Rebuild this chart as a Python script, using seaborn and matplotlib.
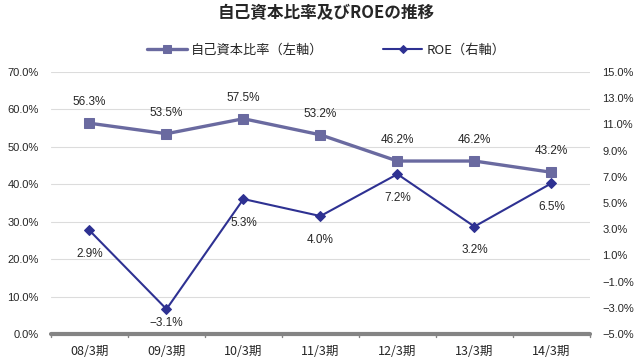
import numpy as np
import pandas as pd
import matplotlib
matplotlib.use("Agg")
import matplotlib.pyplot as plt
import seaborn as sns
from matplotlib.ticker import FuncFormatter

# datos
periodos = ["08/3期", "09/3期", "10/3期", "11/3期", "12/3期", "13/3期", "14/3期"]
ratio_capital = [56.3, 53.5, 57.5, 53.2, 46.2, 46.2, 43.2]
roe = [2.9, -3.1, 5.3, 4.0, 7.2, 3.2, 6.5]

sns.set_style("white")
plt.rcParams['font.family'] = ['Liberation Sans', 'Noto Sans CJK JP', 'DejaVu Sans']
plt.rcParams['axes.unicode_minus'] = True
cjk = ['Noto Sans CJK JP', 'DejaVu Sans']

col_ratio = "#6A6AA0"
col_roe = "#2E3192"
col_eje = "#848484"

df = pd.DataFrame({"periodo": periodos, "ratio": ratio_capital, "roe": roe})

fig = plt.figure(figsize=(6.4, 3.64), dpi=100)
ax = fig.add_axes([0.0797, 0.0824, 0.842, 0.72])
ax2 = ax.twinx()

sns.lineplot(data=df, x="periodo", y="ratio", ax=ax, color=col_ratio, marker="s",
             markersize=7.5, markeredgecolor=col_ratio, linewidth=2.4, sort=False,
             label="自己資本比率（左軸）", legend=False)
sns.lineplot(data=df, x="periodo", y="roe", ax=ax2, color=col_roe, marker="D",
             markersize=5, markeredgecolor=col_roe, linewidth=1.5, sort=False,
             label="ROE（右軸）", legend=False)

ax.set_ylim(0, 70)
ax.set_yticks(np.arange(0, 71, 10))
ax2.set_ylim(-5, 15)
ax2.set_yticks(np.arange(-5, 15.1, 2))
ax.set_xlim(-0.5, len(periodos) - 0.5)

fmt = FuncFormatter(lambda v, p: f"{v:.1f}%".replace("-", "\u2212"))
ax.yaxis.set_major_formatter(fmt)
ax2.yaxis.set_major_formatter(fmt)

ax.grid(axis="y", color="#DCDCDC", linewidth=0.8)
ax.set_axisbelow(True)
for a in (ax, ax2):
    for s in ["top", "right", "left", "bottom"]:
        a.spines[s].set_visible(False)
ax.axhline(0, color=col_eje, linewidth=3, zorder=1, clip_on=False)

ax.set_xticks(range(len(periodos)))
ax.set_xticklabels(periodos, family=cjk)
ax.tick_params(axis="x", length=0, labelsize=9, pad=8)
for b in np.arange(-0.5, len(periodos), 1.0):
    ax.plot([b, b], [0, -0.9], color=col_eje, linewidth=1, clip_on=False)
ax.tick_params(axis="y", length=0, labelsize=8, pad=9)
ax2.tick_params(axis="y", length=0, labelsize=8, pad=9)
ax.set_xlabel("")
ax.set_ylabel("")
ax2.set_ylabel("")

for i, v in enumerate(ratio_capital):
    ax.annotate(f"{v:.1f}%", (i, v), xytext=(0, 15), textcoords="offset points",
                ha="center", va="center", fontsize=8.5)

# etiquetas ROE debajo; si no caben sobre el eje, se acercan al punto (como Excel)
alto_px = ax.get_position().height * fig.get_figheight() * 72  # en puntos
pt_por_unidad = alto_px / (15 - (-5))
for i, v in enumerate(roe):
    desp = 17
    espacio = (v - (-5)) * pt_por_unidad - 8
    desp = min(desp, espacio)
    ax2.annotate(f"{v:.1f}%".replace("-", "\u2212"), (i, v), xytext=(0, -desp),
                 textcoords="offset points", ha="center", va="center", fontsize=8.5)

fig.text(0.51, 0.964, "自己資本比率及びROEの推移", ha="center", va="center",
         fontsize=12, fontweight="bold", family=cjk)

h1, l1 = ax.get_legend_handles_labels()
h2, l2 = ax2.get_legend_handles_labels()
fig.legend(h1 + h2, l1 + l2, loc="center", bbox_to_anchor=(0.51, 0.863), ncol=2,
           frameon=False, prop={"family": cjk, "size": 9.5}, columnspacing=4.5,
           handlelength=3, handletextpad=0.3, markerscale=0.75)

fig.savefig("out.png", dpi=100)
